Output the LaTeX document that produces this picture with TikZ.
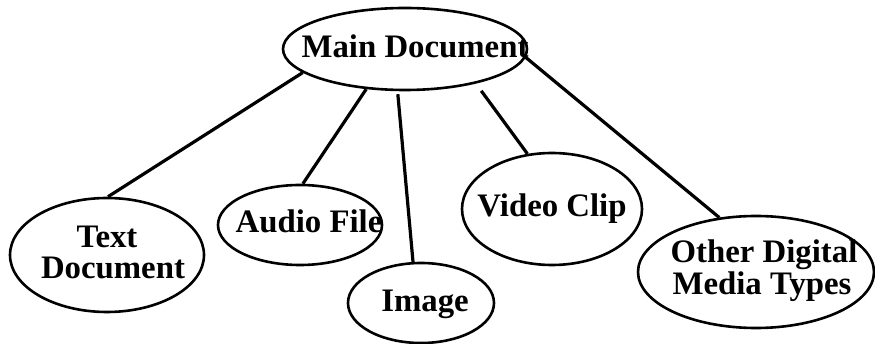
\documentclass[tikz,border=0pt]{standalone}
\usepackage{fontspec}
\setmainfont{Liberation Serif}
\usetikzlibrary{shapes.geometric}
\tikzset{
  bubble/.style={draw=black, line width=2.6pt, ellipse, inner sep=0pt},
  lbl/.style={anchor=base, inner sep=0pt, font=\bfseries\fontsize{32.8}{33}\selectfont},
  link/.style={draw=black, line width=3.2pt}
}
\begin{document}
\begin{tikzpicture}[x=1pt, y=-1pt]
\useasboundingbox (0,0) rectangle (875,344);
\fill[white] (0,0) rectangle (875,344);

% ellipses
\node[bubble, minimum width=244pt, minimum height=82pt]  (main)  at (405,49)  {};
\node[bubble, minimum width=194pt, minimum height=114pt] (tdoc)  at (107,255) {};
\node[bubble, minimum width=164pt, minimum height=80pt]  (audio) at (300,225) {};
\node[bubble, minimum width=146pt, minimum height=80pt]  (image) at (421,303) {};
\node[bubble, minimum width=180pt, minimum height=112pt] (video) at (552,209) {};
\node[bubble, minimum width=236pt, minimum height=112pt] (other) at (756,272) {};

% labels
\node[lbl] (mainlbl)   at (415,58)  {Main Document};
\node[lbl] (tdoclblA)  at (107,248) {Text};
\node[lbl] (tdoclblB)  at (113,279) {Document};
\node[lbl] (audiolbl)  at (309,233) {Audio File};
\node[lbl] (imagelbl)  at (425,312) {Image};
\node[lbl] (videolbl)  at (552,217) {Video Clip};
\node[lbl] (otherlblA) at (764,263) {Other Digital};
\node[lbl] (otherlblB) at (762,295) {Media Types};

% connectors
\draw[link] (main.193) -- (tdoc.89);
\draw[link] (main.226) -- (audio.86);
\draw[link, shorten <=3pt] (main.260) -- (image.101);
\draw[link, shorten <=9pt] (main.334) -- (video.114);
\draw[link] (main.356) -- (other.124);
\end{tikzpicture}
\end{document}
